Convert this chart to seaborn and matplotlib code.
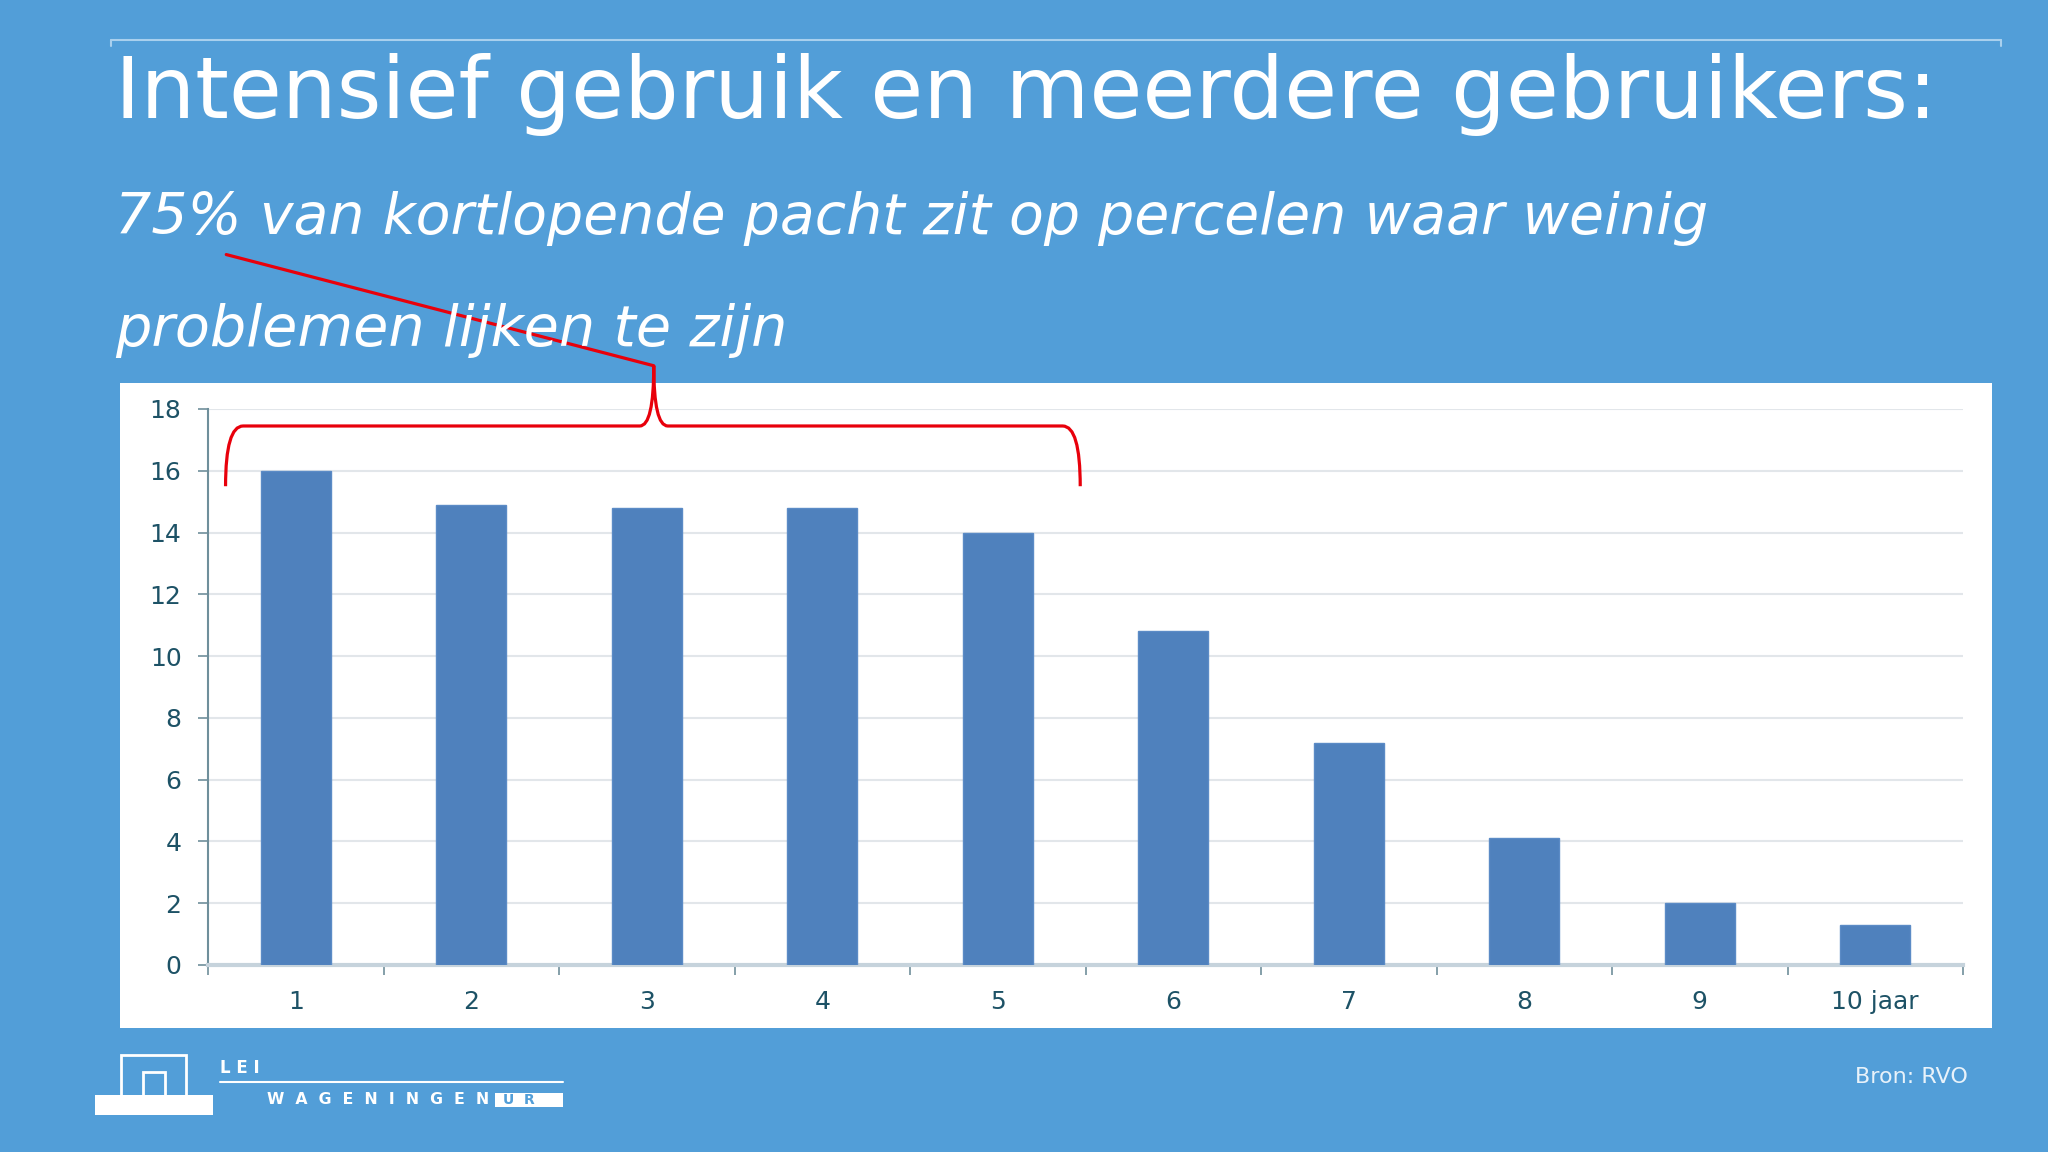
import matplotlib
matplotlib.use("Agg")
import matplotlib.pyplot as plt
from matplotlib.patches import Rectangle, PathPatch
from matplotlib.path import Path
import seaborn as sns
import pandas as pd

# gegevens uit de grafiek (looptijd kortlopende pacht)
jaren = ["1", "2", "3", "4", "5", "6", "7", "8", "9", "10 jaar"]
aandeel = [16.0, 14.9, 14.8, 14.8, 14.0, 10.8, 7.2, 4.1, 2.0, 1.3]
y_ticks = [0, 2, 4, 6, 8, 10, 12, 14, 16, 18]

TITEL = "Intensief gebruik en meerdere gebruikers:"
SUB1 = "75% van kortlopende pacht zit op percelen waar weinig"
SUB2 = "problemen lijken te zijn"

BG = "#529ED8"
BAR = "#4F81BD"
TICK = "#1d5266"

W, H = 2048, 1152
sns.set_theme(style="white")
plt.rcParams['font.family'] = ['DejaVu Sans']

fig = plt.figure(figsize=(W / 100, H / 100), dpi=100, facecolor=BG)


def fx(x):
    return x / W


def fy(y):
    return 1 - y / H


def fit_text(x, y, s, target_w, fs, **kw):
    t = fig.text(fx(x), fy(y), s, fontsize=fs, **kw)
    fig.canvas.draw()
    w = t.get_window_extent().width
    t.set_fontsize(fs * target_w / w)
    return t


# bovenste lijn
fig.add_artist(plt.Line2D([fx(111), fx(2001)], [fy(40), fy(40)], color="#a9d0ee", lw=1.5))
fig.add_artist(plt.Line2D([fx(111), fx(111)], [fy(40), fy(46)], color="#a9d0ee", lw=1.5))
fig.add_artist(plt.Line2D([fx(2001), fx(2001)], [fy(40), fy(46)], color="#a9d0ee", lw=1.5))

fit_text(115, 95, TITEL, 1818, 66, color="white", va="center", ha="left")
fit_text(115, 218, SUB1, 1593, 45, color="white", va="center", ha="left", style="italic")
fit_text(115, 331, SUB2, 673, 45, color="white", va="center", ha="left", style="italic")

# wit paneel achter de grafiek
fig.add_artist(Rectangle((fx(120), fy(1028)), fx(1992) - fx(120), (1028 - 383) / H,
                         facecolor="white", edgecolor="none", zorder=0))

ax = fig.add_axes([fx(208), fy(965), fx(1963) - fx(208), (965 - 409) / H])
ax.set_facecolor("white")
df = pd.DataFrame({"jaar": jaren, "aandeel": aandeel})
sns.barplot(data=df, x="jaar", y="aandeel", order=jaren, color=BAR, width=0.4,
            saturation=1, edgecolor="#5b8bc6", linewidth=1, ax=ax, zorder=3)

ax.set_ylim(0, 18)
ax.set_xlim(-0.5, len(jaren) - 0.5)
ax.set_yticks(y_ticks)
ax.set_xlabel("")
ax.set_ylabel("")
ax.grid(axis="y", color="#e2e6ea", lw=1.5, zorder=0)
ax.set_axisbelow(True)
for sp in ["top", "right"]:
    ax.spines[sp].set_visible(False)
ax.spines["left"].set_color("#6f8f9b")
ax.spines["left"].set_linewidth(1.5)
ax.spines["bottom"].set_color("#c6d3dc")
ax.spines["bottom"].set_linewidth(3)
ax.tick_params(axis="both", which="both", bottom=True, left=True)
ax.tick_params(axis="y", length=7, width=1.2, color="#6f8f9b", pad=12,
               labelsize=18, labelcolor=TICK)
ax.tick_params(axis="x", which="major", length=0, pad=18, labelsize=18, labelcolor=TICK)
ax.set_xticks([i - 0.5 for i in range(len(jaren) + 1)], minor=True)
ax.tick_params(axis="x", which="minor", length=7, width=1.2, color="#6f8f9b")

# rode accolade boven de eerste vijf jaren
verts = [(-0.40, 15.5), (-0.40, 17.45), (-0.30, 17.45), (1.96, 17.45),
         (2.04, 17.45), (2.04, 19.4), (2.04, 17.45), (2.12, 17.45),
         (4.37, 17.45), (4.47, 17.45), (4.47, 15.5)]
codes = [Path.MOVETO, Path.CURVE3, Path.CURVE3, Path.LINETO,
         Path.CURVE3, Path.CURVE3, Path.CURVE3, Path.CURVE3,
         Path.LINETO, Path.CURVE3, Path.CURVE3]
ax.add_patch(PathPatch(Path(verts, codes), fill=False, edgecolor="#e8000b", lw=2.3,
                       clip_on=False, zorder=6))
ax.plot([2.04, -0.396], [19.4, 23.0], color="#e8000b", lw=2.3, clip_on=False, zorder=6)

# logo LEI Wageningen UR
fig.add_artist(Rectangle((fx(95), fy(1115)), fx(213) - fx(95), 20 / H, facecolor="white",
                         edgecolor="none"))
fig.add_artist(Rectangle((fx(121), fy(1098)), fx(186) - fx(121), 43 / H, facecolor="none",
                         edgecolor="white", lw=2))
fig.add_artist(Rectangle((fx(143), fy(1098)), fx(165) - fx(143), 26 / H, facecolor="none",
                         edgecolor="white", lw=2))
fig.text(fx(220), fy(1068), "L E I", color="white", fontsize=12, fontweight="bold", va="center")
fig.add_artist(plt.Line2D([fx(220), fx(563)], [fy(1082), fy(1082)], color="white", lw=1.5))
fit_text(267, 1100, "W  A  G  E  N  I  N  G  E  N", 221, 10, color="white",
         fontweight="bold", va="center")
fig.add_artist(Rectangle((fx(495), fy(1107)), fx(563) - fx(495), 14 / H, facecolor="white",
                         edgecolor="none"))
fig.text(fx(503), fy(1100), "U  R", color=BG, fontsize=10, fontweight="bold", va="center")

fig.text(fx(1968), fy(1077), "Bron: RVO", color="#e8f2fa", fontsize=16, ha="right", va="center")

fig.savefig("out.png", dpi=100, facecolor=BG)
